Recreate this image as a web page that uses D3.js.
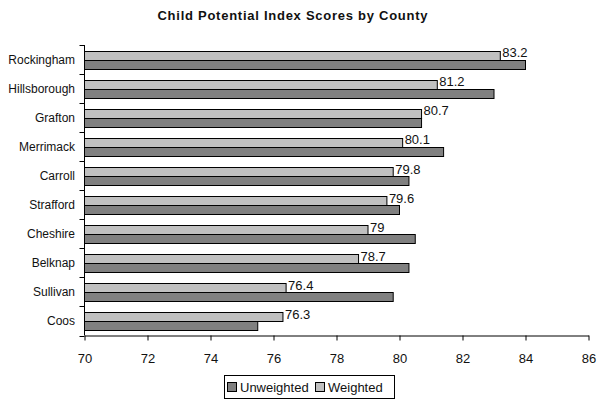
<!DOCTYPE html>
<html><head><meta charset="utf-8">
<script src="https://cdn.jsdelivr.net/npm/d3@7/dist/d3.min.js"></script>
<style>
html,body{margin:0;padding:0;background:#fff;}
svg{display:block;}
text{font-family:"Liberation Sans",Arial,sans-serif;fill:#111;}
</style></head>
<body>
<svg id="chart" width="597" height="400"></svg>
<script>
const counties = ["Rockingham","Hillsborough","Grafton","Merrimack","Carroll","Strafford","Cheshire","Belknap","Sullivan","Coos"];
const weighted = [83.2,81.2,80.7,80.1,79.8,79.6,79,78.7,76.4,76.3];
const unweighted = [84.0,83.0,80.7,81.4,80.3,80.0,80.5,80.3,79.8,75.5];
const tickValues = [70,72,74,76,78,80,82,84,86];
const seriesNames = ["Unweighted","Weighted"];
const title = "Child Potential Index Scores by County";

const svg = d3.select("#chart");
const mLeft = 84.5, mRight = 588.5, mTop = 45, mBottom = 335.5;

const x = d3.scaleLinear().domain([70,86]).range([mLeft,mRight]);
const y = d3.scaleBand().domain(counties).range([mTop,mBottom]).paddingInner(0.4).paddingOuter(0.2);
const ys = d3.scaleBand().domain(["Weighted","Unweighted"]).range([0,y.bandwidth()]);
const colors = {Unweighted:"#808080", Weighted:"#c0c0c0"};

// title
svg.append("text").attr("x",292.5).attr("y",20).attr("text-anchor","middle")
  .style("font-weight","bold").style("font-size","13px")
  .attr("textLength",270).attr("lengthAdjust","spacing").text(title);

const rows = counties.map((c,i)=>({c, w:weighted[i], u:unweighted[i]}));

const g = svg.append("g");
rows.forEach(r=>{
  [["Weighted",r.w],["Unweighted",r.u]].forEach(([s,v])=>{
    g.append("rect")
      .attr("x",x(70))
      .attr("y",Math.round(y(r.c)+ys(s))+0.5)
      .attr("width",x(v)-x(70))
      .attr("height",Math.round(ys.bandwidth()))
      .attr("fill",colors[s]).attr("stroke","#000").attr("stroke-width",1);
  });
  g.append("text")
    .attr("x",x(r.w)+2)
    .attr("y",y(r.c)+ys("Weighted")+6.5)
    .style("font-size","13px")
    .text(String(r.w));
});

// y axis line + boundary ticks
svg.append("line").attr("x1",mLeft).attr("x2",mLeft).attr("y1",mTop).attr("y2",mBottom)
  .attr("stroke","#000");
const bounds = counties.map(c=>y(c)-y.step()*0.2).concat([mBottom]);
svg.selectAll(".yt").data(bounds).enter().append("line")
  .attr("x1",mLeft-5).attr("x2",mLeft).attr("y1",d=>Math.round(d)+0.5).attr("y2",d=>Math.round(d)+0.5)
  .attr("stroke","#000");
svg.selectAll(".yl").data(counties).enter().append("text")
  .attr("x",75).attr("y",d=>y(d)+y.bandwidth()/2).attr("dy","0.35em")
  .attr("text-anchor","end").style("font-size","12px").text(d=>d);

// x axis
const xa = svg.append("g").attr("transform",`translate(0,${mBottom})`)
  .call(d3.axisBottom(x).tickValues(tickValues).tickSize(5).tickPadding(13.5).tickSizeOuter(0));
xa.select(".domain").attr("stroke","#000");
xa.selectAll(".tick line").attr("stroke","#000");
xa.selectAll(".tick text").style("font-size","13px").style("font-family","'Liberation Sans',Arial,sans-serif").attr("fill","#111");

// legend
const lg = svg.append("g");
lg.append("rect").attr("x",224.5).attr("y",375.5).attr("width",170).attr("height",23)
  .attr("fill","#fff").attr("stroke","#000");
const lx = [227,315];
seriesNames.forEach((s,i)=>{
  lg.append("rect").attr("x",lx[i]+0.5).attr("y",382.5).attr("width",9).attr("height",9)
    .attr("fill",colors[s]).attr("stroke","#000");
  lg.append("text").attr("x",lx[i]+13).attr("y",387).attr("dy","0.35em")
    .style("font-size","13px").text(s);
});
</script>
</body></html>
